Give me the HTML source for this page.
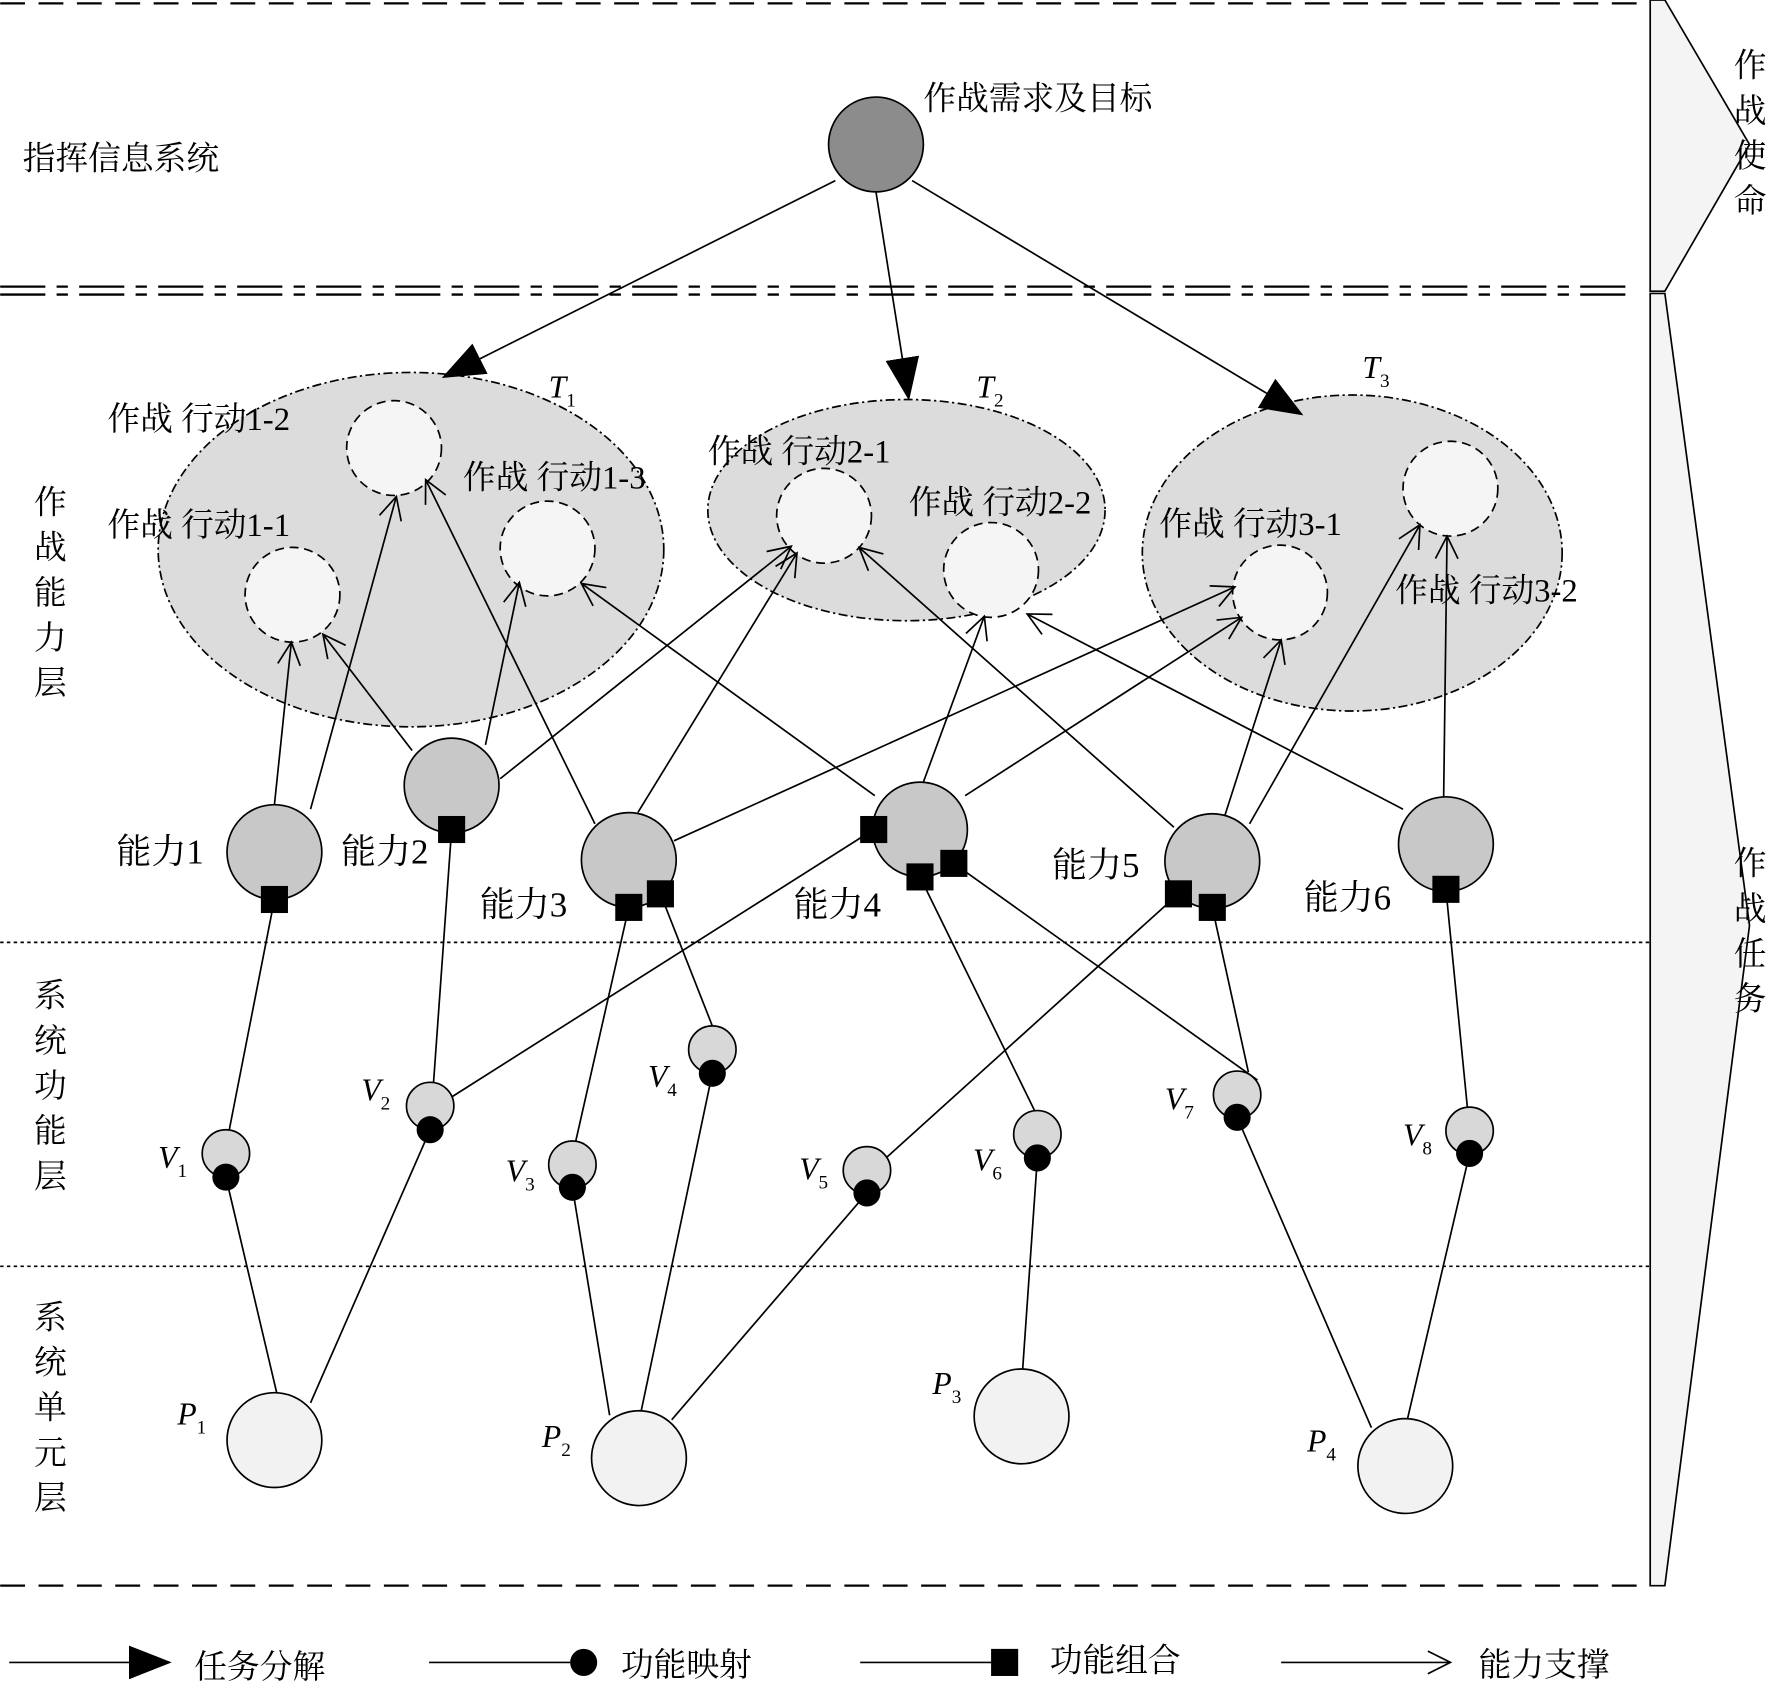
<!DOCTYPE html>
<html><head><meta charset="utf-8"><style>
html,body{margin:0;padding:0;background:#fff;}
svg{display:block;}
text{font-family:"Liberation Serif","Noto Serif CJK SC","Noto Sans CJK SC",serif;fill:#000;}
</style></head><body>
<svg width="1770" height="1685" viewBox="0 0 1568 1493" xmlns="http://www.w3.org/2000/svg">
<defs>
<marker id="fa" markerWidth="40" markerHeight="30" refX="36" refY="15" orient="auto" markerUnits="userSpaceOnUse"><path d="M0,0 L38,15 L0,30 Z" fill="#000"/></marker>
<marker id="oa" markerWidth="24" markerHeight="24" refX="22" refY="12" orient="auto" markerUnits="userSpaceOnUse"><path d="M2,2 L22,12 L2,22" fill="none" stroke="#000" stroke-width="1.5"/></marker>
</defs>
<rect width="1568" height="1493" fill="#fff"/>
<line x1="0" y1="3" x2="1460" y2="3" stroke="#000" stroke-width="2" stroke-dasharray="22,12"/>
<line x1="0" y1="254" x2="1450" y2="254" stroke="#000" stroke-width="2" stroke-dasharray="40,10,10,10"/>
<line x1="0" y1="261" x2="1450" y2="261" stroke="#000" stroke-width="2" stroke-dasharray="40,10,10,10"/>
<line x1="0" y1="1405" x2="1460" y2="1405" stroke="#000" stroke-width="2" stroke-dasharray="22,12"/>
<line x1="0" y1="835" x2="1462" y2="835" stroke="#000" stroke-width="1.5" stroke-dasharray="3,3"/>
<line x1="0" y1="1122" x2="1462" y2="1122" stroke="#000" stroke-width="1.5" stroke-dasharray="3,3"/>
<polygon points="1462,0 1475,0 1550,128 1475,258 1462,258" fill="#f4f4f4" stroke="#000" stroke-width="1.5"/>
<polygon points="1462,260 1475,260 1550,820 1475,1405 1462,1405" fill="#f4f4f4" stroke="#000" stroke-width="1.5"/>
<g font-size="29">
<text x="1536" y="68">作</text><text x="1536" y="108">战</text><text x="1536" y="148">使</text><text x="1536" y="188">命</text>
<text x="1536" y="775">作</text><text x="1536" y="815">战</text><text x="1536" y="855">任</text><text x="1536" y="895">务</text>
<text x="20" y="150">指挥信息系统</text>
<text x="30" y="455">作</text><text x="30" y="495">战</text><text x="30" y="535">能</text><text x="30" y="575">力</text><text x="30" y="615">层</text>
<text x="30" y="892">系</text><text x="30" y="932">统</text><text x="30" y="972">功</text><text x="30" y="1012">能</text><text x="30" y="1052">层</text>
<text x="30" y="1177">系</text><text x="30" y="1217">统</text><text x="30" y="1257">单</text><text x="30" y="1297">元</text><text x="30" y="1337">层</text>
</g>
<g fill="#dcdcdc" stroke="#000" stroke-width="1.5" stroke-dasharray="8,3,2,3">
<ellipse cx="364" cy="487" rx="224" ry="157"/>
<ellipse cx="803" cy="452" rx="176" ry="98"/>
<ellipse cx="1198" cy="490" rx="186" ry="140"/>
</g>
<circle cx="776" cy="128" r="42" fill="#8c8c8c" stroke="#000" stroke-width="1.5"/>
<g stroke="#000" stroke-width="1.5" fill="none">
<line x1="740" y1="160" x2="393" y2="334" marker-end="url(#fa)"/>
<line x1="776" y1="170" x2="805" y2="353" marker-end="url(#fa)"/>
<line x1="808" y1="160" x2="1153" y2="367" marker-end="url(#fa)"/>
</g>
<g fill="#f5f5f5" stroke="#000" stroke-width="1.5" stroke-dasharray="8,5">
<circle cx="349" cy="397" r="42"/><circle cx="485" cy="486" r="42"/><circle cx="259" cy="527" r="42"/>
<circle cx="730" cy="457" r="42"/><circle cx="878" cy="505" r="42"/>
<circle cx="1134" cy="525" r="42"/><circle cx="1285" cy="433" r="42"/>
</g>
<g stroke="#000" stroke-width="1.5" fill="none" marker-end="url(#oa)">
<line x1="243" y1="713" x2="258" y2="569"/>
<line x1="275" y1="717" x2="351" y2="440"/>
<line x1="365" y1="665" x2="286" y2="562"/>
<line x1="430" y1="660" x2="460" y2="516"/>
<line x1="443" y1="690" x2="701" y2="484"/>
<line x1="527" y1="730" x2="377" y2="425"/>
<line x1="565" y1="720" x2="706" y2="490"/>
<line x1="597" y1="745" x2="1094" y2="520"/>
<line x1="775" y1="705" x2="515" y2="517"/>
<line x1="818" y1="693" x2="872" y2="546"/>
<line x1="855" y1="705" x2="1100" y2="547"/>
<line x1="1040" y1="733" x2="761" y2="485"/>
<line x1="1085" y1="723" x2="1135" y2="567"/>
<line x1="1107" y1="730" x2="1258" y2="465"/>
<line x1="1243" y1="717" x2="910" y2="544"/>
<line x1="1279" y1="706" x2="1282" y2="475"/>
</g>
<g stroke="#000" stroke-width="1.5">
<line x1="243" y1="797" x2="203" y2="1001"/>
<line x1="400" y1="735" x2="384" y2="959"/>
<line x1="557" y1="804" x2="510" y2="1011"/>
<line x1="585" y1="792" x2="631" y2="909"/>
<line x1="774" y1="735" x2="400" y2="972"/>
<line x1="815" y1="777" x2="917" y2="985"/>
<line x1="845" y1="765" x2="1114" y2="957"/>
<line x1="1044" y1="792" x2="786" y2="1025"/>
<line x1="1074" y1="804" x2="1106" y2="950"/>
<line x1="1281" y1="788" x2="1300" y2="981"/>
<line x1="200" y1="1043" x2="245" y2="1234"/>
<line x1="381" y1="1001" x2="275" y2="1243"/>
<line x1="507" y1="1052" x2="540" y2="1254"/>
<line x1="631" y1="951" x2="568" y2="1250"/>
<line x1="768" y1="1057" x2="595" y2="1258"/>
<line x1="919" y1="1026" x2="906" y2="1213"/>
<line x1="1096" y1="990" x2="1215" y2="1265"/>
<line x1="1302" y1="1022" x2="1247" y2="1257"/>
</g>
<g fill="#c8c8c8" stroke="#000" stroke-width="1.5">
<circle cx="243" cy="755" r="42"/><circle cx="400" cy="696" r="42"/><circle cx="557" cy="762" r="42"/>
<circle cx="815" cy="735" r="42"/><circle cx="1074" cy="763" r="42"/><circle cx="1281" cy="748" r="42"/>
</g>
<g fill="#000">
<rect x="231" y="785" width="24" height="24"/><rect x="388" y="723" width="24" height="24"/>
<rect x="545" y="792" width="24" height="24"/><rect x="573" y="780" width="24" height="24"/>
<rect x="762" y="723" width="24" height="24"/><rect x="803" y="765" width="24" height="24"/>
<rect x="833" y="753" width="24" height="24"/><rect x="1032" y="780" width="24" height="24"/>
<rect x="1062" y="792" width="24" height="24"/><rect x="1269" y="776" width="24" height="24"/>
</g>
<g fill="#d8d8d8" stroke="#000" stroke-width="1.5">
<circle cx="200" cy="1022" r="21"/><circle cx="381" cy="980" r="21"/><circle cx="507" cy="1032" r="21"/>
<circle cx="631" cy="930" r="21"/><circle cx="768" cy="1037" r="21"/><circle cx="919" cy="1005" r="21"/>
<circle cx="1096" cy="970" r="21"/><circle cx="1302" cy="1002" r="21"/>
</g>
<g fill="#000">
<circle cx="200" cy="1043" r="12"/><circle cx="381" cy="1001" r="12"/><circle cx="507" cy="1052" r="12"/>
<circle cx="631" cy="951" r="12"/><circle cx="768" cy="1057" r="12"/><circle cx="919" cy="1026" r="12"/>
<circle cx="1096" cy="990" r="12"/><circle cx="1302" cy="1022" r="12"/>
</g>
<g fill="#f2f2f2" stroke="#000" stroke-width="1.5">
<circle cx="243" cy="1276" r="42"/><circle cx="566" cy="1292" r="42"/>
<circle cx="905" cy="1255" r="42"/><circle cx="1245" cy="1299" r="42"/>
</g>
<g font-size="29">
<text x="818" y="97">作战需求及目标</text>
<text x="95" y="381" xml:space="preserve">作战 行动1-2</text>
<text x="95" y="475" xml:space="preserve">作战 行动1-1</text>
<text x="410" y="433" xml:space="preserve">作战 行动1-3</text>
<text x="627" y="410" xml:space="preserve">作战 行动2-1</text>
<text x="805" y="455" xml:space="preserve">作战 行动2-2</text>
<text x="1027" y="474" xml:space="preserve">作战 行动3-1</text>
<text x="1236" y="533" xml:space="preserve">作战 行动3-2</text>
</g>
<g font-size="31">
<text x="103" y="765">能力1</text><text x="302" y="765">能力2</text><text x="425" y="812">能力3</text>
<text x="703" y="812">能力4</text><text x="932" y="777">能力5</text><text x="1155" y="806">能力6</text>
</g>
<g font-size="28" font-style="italic">
<text x="486" y="352">T<tspan font-size="17" dy="8" font-style="normal">1</tspan></text>
<text x="865" y="352">T<tspan font-size="17" dy="8" font-style="normal">2</tspan></text>
<text x="1207" y="335">T<tspan font-size="17" dy="8" font-style="normal">3</tspan></text>
<text x="140" y="1035">V<tspan font-size="17" dy="8" font-style="normal">1</tspan></text>
<text x="320" y="975">V<tspan font-size="17" dy="8" font-style="normal">2</tspan></text>
<text x="448" y="1047">V<tspan font-size="17" dy="8" font-style="normal">3</tspan></text>
<text x="574" y="963">V<tspan font-size="17" dy="8" font-style="normal">4</tspan></text>
<text x="708" y="1045">V<tspan font-size="17" dy="8" font-style="normal">5</tspan></text>
<text x="862" y="1037">V<tspan font-size="17" dy="8" font-style="normal">6</tspan></text>
<text x="1032" y="983">V<tspan font-size="17" dy="8" font-style="normal">7</tspan></text>
<text x="1243" y="1015">V<tspan font-size="17" dy="8" font-style="normal">8</tspan></text>
<text x="157" y="1262">P<tspan font-size="17" dy="8" font-style="normal">1</tspan></text>
<text x="480" y="1282">P<tspan font-size="17" dy="8" font-style="normal">2</tspan></text>
<text x="826" y="1235">P<tspan font-size="17" dy="8" font-style="normal">3</tspan></text>
<text x="1158" y="1286">P<tspan font-size="17" dy="8" font-style="normal">4</tspan></text>
</g>
<g stroke="#000" stroke-width="1.5" fill="none">
<line x1="8" y1="1473" x2="150" y2="1473" marker-end="url(#fa)"/>
<line x1="380" y1="1473" x2="505" y2="1473"/>
<line x1="762" y1="1473" x2="880" y2="1473"/>
<line x1="1135" y1="1473" x2="1285" y2="1473" marker-end="url(#oa)"/>
</g>
<circle cx="517" cy="1473" r="12" fill="#000"/>
<rect x="878" y="1461" width="24" height="24" fill="#000"/>
<g font-size="29">
<text x="172" y="1487">任务分解</text>
<text x="550" y="1485">功能映射</text>
<text x="930" y="1481">功能组合</text>
<text x="1310" y="1485">能力支撑</text>
</g>
</svg>
</body></html>
